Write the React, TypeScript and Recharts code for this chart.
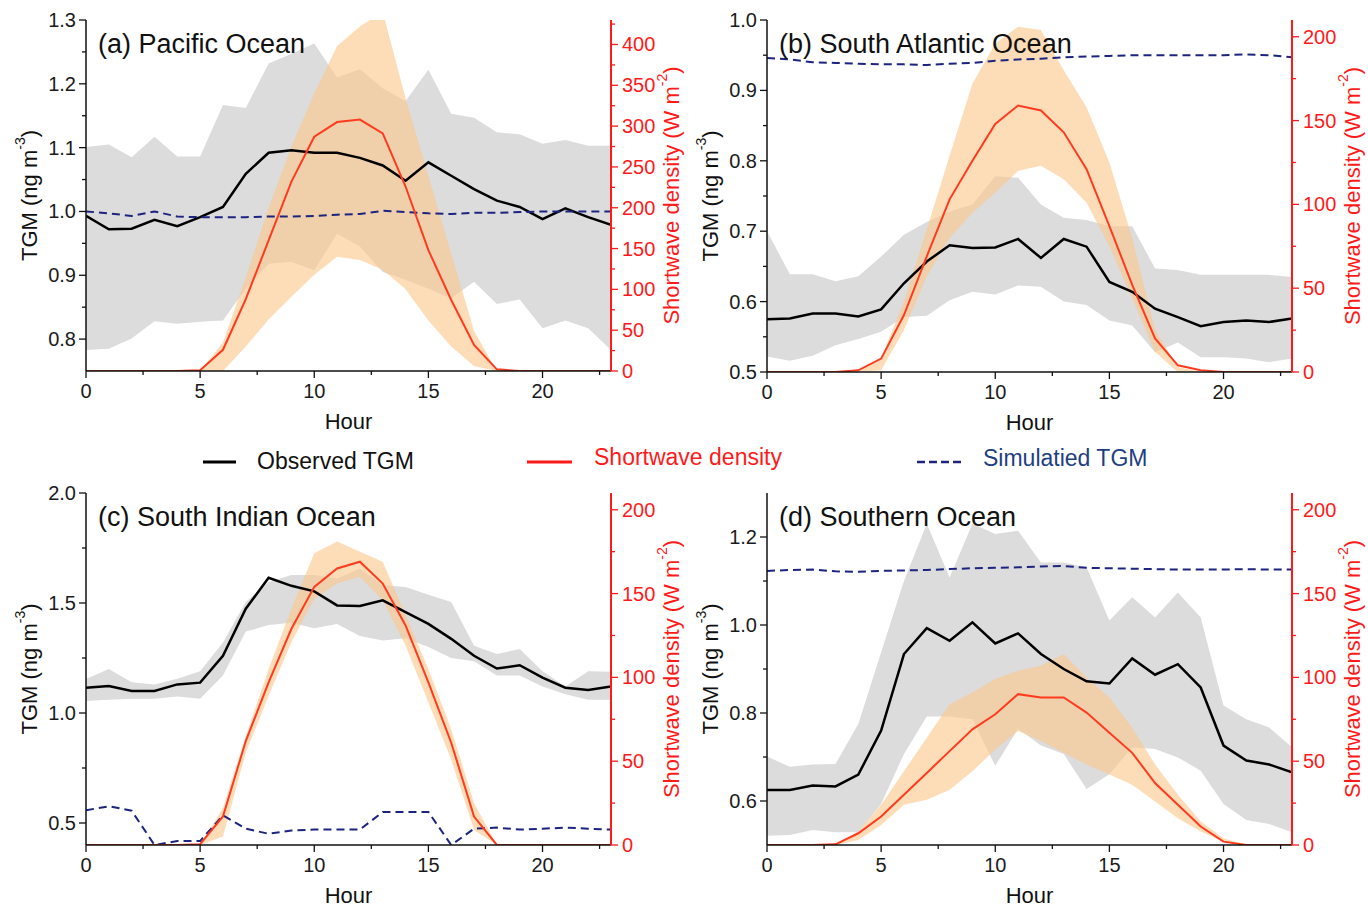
import React from 'react';
import { ComposedChart, Area, Line, XAxis, YAxis } from 'recharts';

const FONT = '"Liberation Sans", Arial, Helvetica, sans-serif';

const hours = [0, 1, 2, 3, 4, 5, 6, 7, 8, 9, 10, 11, 12, 13, 14, 15, 16, 17, 18, 19, 20, 21, 22, 23];
const hourTicks = [0, 2.5, 5, 7.5, 10, 12.5, 15, 17.5, 20, 22.5];
const hourMajor = [0, 5, 10, 15, 20];

// (a) Pacific Ocean
const obsA = [0.993, 0.972, 0.973, 0.987, 0.977, 0.991, 1.007, 1.059, 1.092, 1.096, 1.092, 1.092, 1.084, 1.072, 1.048, 1.077, 1.056, 1.035, 1.017, 1.007, 0.988, 1.005, 0.991, 0.979];
const obsHiA = [1.101, 1.105, 1.085, 1.117, 1.086, 1.086, 1.167, 1.162, 1.232, 1.247, 1.263, 1.21, 1.223, 1.193, 1.173, 1.222, 1.153, 1.147, 1.124, 1.121, 1.106, 1.112, 1.103, 1.103];
const obsLoA = [0.783, 0.785, 0.801, 0.828, 0.824, 0.827, 0.829, 0.879, 0.918, 0.921, 0.908, 0.965, 0.945, 0.905, 0.893, 0.879, 0.864, 0.89, 0.855, 0.862, 0.817, 0.829, 0.817, 0.783];
const simA = [1.0, 0.997, 0.993, 1.0, 0.992, 0.991, 0.991, 0.991, 0.992, 0.992, 0.993, 0.995, 0.996, 1.001, 0.999, 0.997, 0.996, 0.998, 0.998, 0.999, 1.0, 1.0, 1.0, 1.0];
const swA = [0, 0, 0, 0, 0, 1, 26, 88, 160, 232, 287, 305, 308, 291, 226, 148, 87, 32, 2, 0, 0, 0, 0, 0];
const swHiA = [0, 0, 0, 0, 0, 0, 35, 115, 200, 275, 340, 398, 422, 440, 334, 239, 144, 49, 0, 0, 0, 0, 0, 0];
const swLoA = [0, 0, 0, 0, 0, 0, 0, 30, 63, 91, 118, 140, 136, 124, 100, 62, 30, 6, 0, 0, 0, 0, 0, 0];

// (b) South Atlantic Ocean
const obsB = [0.575, 0.576, 0.583, 0.583, 0.579, 0.589, 0.626, 0.657, 0.68, 0.676, 0.677, 0.689, 0.662, 0.689, 0.678, 0.628, 0.614, 0.59, 0.578, 0.565, 0.571, 0.573, 0.571, 0.576];
const obsHiB = [0.7, 0.639, 0.639, 0.629, 0.636, 0.664, 0.695, 0.713, 0.728, 0.738, 0.778, 0.776, 0.738, 0.719, 0.716, 0.707, 0.707, 0.647, 0.645, 0.638, 0.638, 0.638, 0.638, 0.635];
const obsLoB = [0.522, 0.516, 0.523, 0.538, 0.547, 0.557, 0.578, 0.58, 0.602, 0.614, 0.61, 0.623, 0.621, 0.6, 0.595, 0.573, 0.566, 0.528, 0.542, 0.521, 0.521, 0.519, 0.514, 0.519];
const simB = [0.946, 0.944, 0.94, 0.939, 0.938, 0.937, 0.937, 0.936, 0.938, 0.939, 0.942, 0.944, 0.945, 0.947, 0.948, 0.949, 0.95, 0.95, 0.95, 0.95, 0.95, 0.951, 0.95, 0.947];
const swB = [0, 0, 0, 0, 1, 8, 34, 69, 103, 126, 148, 159, 156, 143, 121, 87, 52, 20, 4, 1, 0, 0, 0, 0];
const swHiB = [0, 0, 0, 0, 0, 8, 42, 85, 129, 172, 196, 206, 204, 180, 158, 125, 80, 25, 3, 0, 0, 0, 0, 0];
const swLoB = [0, 0, 0, 0, 0, 1, 25, 57, 80, 95, 107, 120, 123, 115, 101, 75, 44, 12, 0, 0, 0, 0, 0, 0];

// (c) South Indian Ocean
const obsC = [1.115, 1.123, 1.1, 1.1, 1.13, 1.138, 1.26, 1.474, 1.615, 1.578, 1.553, 1.489, 1.486, 1.512, 1.459, 1.405, 1.337, 1.26, 1.202, 1.217, 1.161, 1.115, 1.105, 1.12];
const obsHiC = [1.155, 1.2, 1.14, 1.13, 1.156, 1.19, 1.32, 1.505, 1.596, 1.627, 1.627, 1.611, 1.657, 1.581, 1.573, 1.538, 1.505, 1.306, 1.268, 1.291, 1.19, 1.12, 1.19, 1.187];
const obsLoC = [1.055, 1.06, 1.065, 1.065, 1.075, 1.065, 1.17, 1.37, 1.4, 1.41, 1.385, 1.405, 1.35, 1.33, 1.34, 1.3, 1.25, 1.235, 1.17, 1.17, 1.12, 1.085, 1.06, 1.06];
const simC = [0.558, 0.576, 0.556, 0.4, 0.418, 0.418, 0.535, 0.474, 0.451, 0.466, 0.47, 0.47, 0.47, 0.55, 0.55, 0.55, 0.4, 0.474, 0.479, 0.47, 0.474, 0.479, 0.474, 0.47];
const swC = [0, 0, 0, 0, 0, 0.5, 17, 62, 97, 129, 154, 165, 169, 156, 131, 97, 61, 17, 0, 0, 0, 0, 0, 0];
const swHiC = [0, 0, 0, 0, 0, 0, 22, 65, 105, 141, 174, 181, 175, 169, 137, 105, 69, 25, 0, 0, 0, 0, 0, 0];
const swLoC = [0, 0, 0, 0, 0, 0, 5, 55, 89, 121, 147, 156, 160, 146, 119, 85, 51, 9, 0, 0, 0, 0, 0, 0];

// (d) Southern Ocean
const obsD = [0.625, 0.625, 0.635, 0.633, 0.66, 0.76, 0.934, 0.993, 0.964, 1.006, 0.958, 0.981, 0.934, 0.9, 0.872, 0.867, 0.924, 0.887, 0.911, 0.858, 0.726, 0.692, 0.683, 0.665];
const obsHiD = [0.701, 0.678, 0.683, 0.684, 0.775, 0.938, 1.1, 1.23, 1.108, 1.23, 1.207, 1.214, 1.142, 1.142, 1.131, 1.01, 1.063, 1.017, 1.074, 1.017, 0.817, 0.786, 0.767, 0.722];
const obsLoD = [0.521, 0.523, 0.534, 0.529, 0.529, 0.593, 0.707, 0.792, 0.792, 0.786, 0.68, 0.764, 0.726, 0.707, 0.627, 0.661, 0.722, 0.718, 0.699, 0.669, 0.593, 0.557, 0.548, 0.529];
const simD = [1.123, 1.125, 1.126, 1.122, 1.121, 1.123, 1.124, 1.125, 1.127, 1.129, 1.13, 1.131, 1.133, 1.134, 1.13, 1.129, 1.128, 1.127, 1.126, 1.126, 1.126, 1.127, 1.126, 1.126];
const swD = [0, 0, 0, 0.4, 7, 17, 30, 43, 56, 69, 78, 90, 88, 88, 79, 67, 55, 37, 24, 11, 2, 0, 0, 0];
const swHiD = [0, 0, 0, 0, 8, 24, 44, 64, 84, 91, 99, 104, 107, 114, 100, 88, 70, 48, 30, 14, 4, 0, 0, 0];
const swLoD = [0, 0, 0, 0, 3, 12, 24, 27, 33, 44, 57, 68, 62, 55, 48, 42, 36, 26, 16, 8, 2, 0, 0, 0];

// axis ticks
const tgmTicksA = [0.8, 0.85, 0.9, 0.95, 1.0, 1.05, 1.1, 1.15, 1.2, 1.25, 1.3];
const tgmMajorA = [0.8, 0.9, 1.0, 1.1, 1.2, 1.3];
const tgmTicksB = [0.5, 0.55, 0.6, 0.65, 0.7, 0.75, 0.8, 0.85, 0.9, 0.95, 1.0];
const tgmMajorB = [0.5, 0.6, 0.7, 0.8, 0.9, 1.0];
const tgmTicksC = [0.5, 0.75, 1.0, 1.25, 1.5, 1.75, 2.0];
const tgmMajorC = [0.5, 1.0, 1.5, 2.0];
const tgmTicksD = [0.6, 0.7, 0.8, 0.9, 1.0, 1.1, 1.2];
const tgmMajorD = [0.6, 0.8, 1.0, 1.2];
const swTicksA = [0, 25, 50, 75, 100, 125, 150, 175, 200, 225, 250, 275, 300, 325, 350, 375, 400, 425];
const swMajorA = [0, 50, 100, 150, 200, 250, 300, 350, 400];
const swTicks200 = [0, 25, 50, 75, 100, 125, 150, 175, 200];
const swMajor200 = [0, 50, 100, 150, 200];

const RED = '#ff1a1a';
const LINE_RED = '#ff3b1f';
const NAVY = '#1c2480';

const isMajor = (majors: number[], v: number) => majors.some((m) => Math.abs(m - v) < 1e-6);

const makeTick = (side: 'bottom' | 'left' | 'right', majors: number[], color: string, fmt: (v: number) => string) =>
  (props: any) => {
    const { x, y, payload } = props;
    const v = payload.value;
    const major = isMajor(majors, v);
    const len = major ? 7 : 4;
    if (side === 'bottom') {
      return (
        <g>
          <line x1={x} x2={x} y1={y} y2={y + len} stroke={color} strokeWidth={1.3} />
          {major && (
            <text x={x} y={y + 20} textAnchor="middle" dominantBaseline="central" fontSize={20} fill="#1a1a1a" fontFamily={FONT}>
              {fmt(v)}
            </text>
          )}
        </g>
      );
    }
    if (side === 'left') {
      return (
        <g>
          <line x1={x - len} x2={x} y1={y} y2={y} stroke={color} strokeWidth={1.3} />
          {major && (
            <text x={x - 10} y={y} textAnchor="end" dominantBaseline="central" fontSize={20} fill="#1a1a1a" fontFamily={FONT}>
              {fmt(v)}
            </text>
          )}
        </g>
      );
    }
    return (
      <g>
        <line x1={x} x2={x + len} y1={y} y2={y} stroke={color} strokeWidth={1.3} />
        {major && (
          <text x={x + 11} y={y} textAnchor="start" dominantBaseline="central" fontSize={20} fill={RED} fontFamily={FONT}>
            {fmt(v)}
          </text>
        )}
      </g>
    );
  };

const LeftTitle = (props: any) => {
  const vb = props.viewBox;
  const cx = vb.x + vb.width - 57;
  const cy = vb.y + vb.height / 2;
  return (
    <text x={cx} y={cy} transform={`rotate(-90 ${cx} ${cy})`} textAnchor="middle" dominantBaseline="central" fontSize={22} fill="#111" fontFamily={FONT}>
      TGM (ng m<tspan dy={-9} fontSize={14}>-3</tspan><tspan dy={9}>)</tspan>
    </text>
  );
};

const RightTitle = (props: any) => {
  const vb = props.viewBox;
  const cx = vb.x + 60;
  const cy = vb.y + vb.height / 2;
  return (
    <text x={cx} y={cy} transform={`rotate(-90 ${cx} ${cy})`} textAnchor="middle" dominantBaseline="central" fontSize={22} fill={RED} fontFamily={FONT}>
      Shortwave density (W m<tspan dy={-9} fontSize={14}>-2</tspan><tspan dy={9}>)</tspan>
    </text>
  );
};

const HourTitle = (props: any) => {
  const vb = props.viewBox;
  return (
    <text x={vb.x + vb.width / 2} y={vb.y + 50} textAnchor="middle" dominantBaseline="central" fontSize={22} fill="#111" fontFamily={FONT}>
      Hour
    </text>
  );
};

type PanelSpec = {
  title: string;
  x: number;
  y: number;
  w: number;
  h: number;
  rightW: number;
  bottomH: number;
  obs: number[];
  obsLo: number[];
  obsHi: number[];
  sim: number[];
  sw: number[];
  swLo: number[];
  swHi: number[];
  tgmDomain: [number, number];
  tgmTicks: number[];
  tgmMajor: number[];
  swDomain: [number, number];
  swTicks: number[];
  swMajor: number[];
};

function Panel(p: PanelSpec) {
  const data = hours.map((h, i) => ({
    h,
    obs: p.obs[i],
    sim: p.sim[i],
    sw: p.sw[i],
    obsBand: [p.obsLo[i], p.obsHi[i]],
    swBand: [p.swLo[i], p.swHi[i]],
  }));
  const plotLeft = p.x + 86;
  const plotTop = p.y + 20;
  return (
    <>
      <div style={{ position: 'absolute', left: p.x, top: p.y }}>
        <ComposedChart width={p.w} height={p.h} data={data} margin={{ top: 20, right: 0, bottom: 0, left: 0 }}>
          <XAxis
            dataKey="h"
            type="number"
            domain={[0, 23]}
            ticks={hourTicks}
            interval={0}
            allowDataOverflow
            height={p.bottomH}
            tickSize={0}
            tickMargin={0}
            tickLine={false}
            axisLine={{ stroke: '#111', strokeWidth: 1.5 }}
            tick={makeTick('bottom', hourMajor, '#111', (v) => String(v))}
            label={{ content: HourTitle }}
          />
          <XAxis xAxisId="top" orientation="top" type="number" domain={[0, 23]} height={0} tick={false} tickLine={false} axisLine={{ stroke: '#111', strokeWidth: 1.5 }} />
          <YAxis
            yAxisId="l"
            type="number"
            domain={p.tgmDomain}
            ticks={p.tgmTicks}
            interval={0}
            allowDataOverflow
            width={86}
            tickSize={0}
            tickMargin={0}
            tickLine={false}
            axisLine={{ stroke: '#111', strokeWidth: 1.5 }}
            tick={makeTick('left', p.tgmMajor, '#111', (v) => v.toFixed(1))}
            label={{ content: LeftTitle }}
          />
          <YAxis
            yAxisId="r"
            orientation="right"
            type="number"
            domain={p.swDomain}
            ticks={p.swTicks}
            interval={0}
            allowDataOverflow
            width={p.rightW}
            tickSize={0}
            tickMargin={0}
            tickLine={false}
            axisLine={{ stroke: RED, strokeWidth: 2 }}
            tick={makeTick('right', p.swMajor, RED, (v) => String(v))}
            label={{ content: RightTitle }}
          />
          <Area yAxisId="l" dataKey="obsBand" type="linear" stroke="none" fill="#dcdcdc" fillOpacity={1} isAnimationActive={false} />
          <Line yAxisId="l" dataKey="obs" type="linear" stroke="#000" strokeWidth={2.5} dot={false} isAnimationActive={false} />
          <Line yAxisId="l" dataKey="sim" type="linear" stroke={NAVY} strokeWidth={2} strokeDasharray="8 5" dot={false} isAnimationActive={false} />
          <Area yAxisId="r" dataKey="swBand" type="linear" stroke="none" fill="#fcc68c" fillOpacity={0.62} isAnimationActive={false} />
          <Line yAxisId="r" dataKey="sw" type="linear" stroke={LINE_RED} strokeWidth={2} dot={false} isAnimationActive={false} />
        </ComposedChart>
      </div>
      <div
        style={{
          position: 'absolute',
          left: plotLeft + 12,
          top: plotTop + 8,
          fontSize: 27,
          lineHeight: '33px',
          color: '#111',
          fontFamily: FONT,
          whiteSpace: 'nowrap',
        }}
      >
        {p.title}
      </div>
    </>
  );
}

function LegendRow() {
  return (
    <svg width={1368} height={40} style={{ position: 'absolute', left: 0, top: 440 }}>
      <line x1={203} x2={236} y1={22} y2={22} stroke="#000" strokeWidth={3} />
      <text x={257} y={21} dominantBaseline="central" fontSize={23} fill="#111" fontFamily={FONT}>
        Observed TGM
      </text>
      <line x1={527} x2={572} y1={22} y2={22} stroke={RED} strokeWidth={3} />
      <text x={594} y={17} dominantBaseline="central" fontSize={23} fill={RED} fontFamily={FONT}>
        Shortwave density
      </text>
      <line x1={917} x2={962} y1={22} y2={22} stroke={NAVY} strokeWidth={2.5} strokeDasharray="8 4" />
      <text x={983} y={18} dominantBaseline="central" fontSize={23} fill="#1e3f80" fontFamily={FONT}>
        Simulatied TGM
      </text>
    </svg>
  );
}

export default function App() {
  return (
    <div style={{ position: 'absolute', left: 0, top: 0, width: 1368, height: 907, background: '#fff', fontFamily: FONT, overflow: 'hidden' }}>
      <Panel
        title="(a) Pacific Ocean"
        x={0} y={0} w={700} h={440} rightW={89} bottomH={69}
        obs={obsA} obsLo={obsLoA} obsHi={obsHiA} sim={simA} sw={swA} swLo={swLoA} swHi={swHiA}
        tgmDomain={[0.75, 1.3]} tgmTicks={tgmTicksA} tgmMajor={tgmMajorA}
        swDomain={[0, 430]} swTicks={swTicksA} swMajor={swMajorA}
      />
      <Panel
        title="(b) South Atlantic Ocean"
        x={681} y={0} w={687} h={440} rightW={76} bottomH={68}
        obs={obsB} obsLo={obsLoB} obsHi={obsHiB} sim={simB} sw={swB} swLo={swLoB} swHi={swHiB}
        tgmDomain={[0.5, 1.0]} tgmTicks={tgmTicksB} tgmMajor={tgmMajorB}
        swDomain={[0, 210]} swTicks={swTicks200} swMajor={swMajor200}
      />
      <LegendRow />
      <Panel
        title="(c) South Indian Ocean"
        x={0} y={473} w={700} h={434} rightW={89} bottomH={62}
        obs={obsC} obsLo={obsLoC} obsHi={obsHiC} sim={simC} sw={swC} swLo={swLoC} swHi={swHiC}
        tgmDomain={[0.4, 2.0]} tgmTicks={tgmTicksC} tgmMajor={tgmMajorC}
        swDomain={[0, 210]} swTicks={swTicks200} swMajor={swMajor200}
      />
      <Panel
        title="(d) Southern Ocean"
        x={681} y={473} w={687} h={434} rightW={76} bottomH={62}
        obs={obsD} obsLo={obsLoD} obsHi={obsHiD} sim={simD} sw={swD} swLo={swLoD} swHi={swHiD}
        tgmDomain={[0.5, 1.3]} tgmTicks={tgmTicksD} tgmMajor={tgmMajorD}
        swDomain={[0, 210]} swTicks={swTicks200} swMajor={swMajor200}
      />
    </div>
  );
}
